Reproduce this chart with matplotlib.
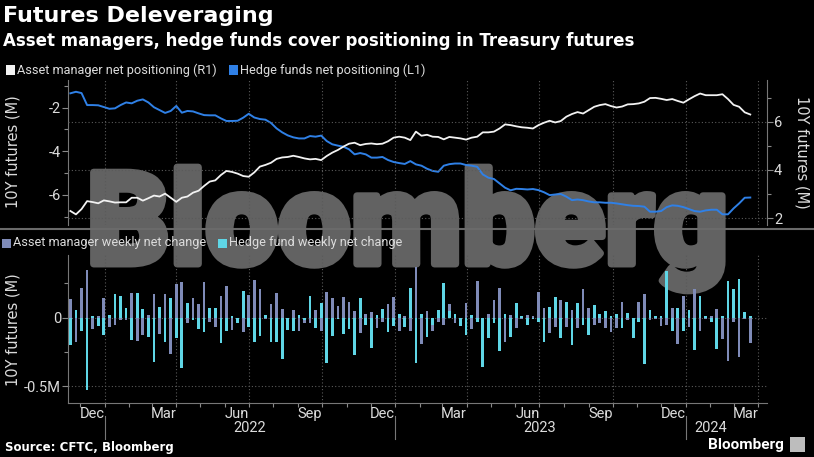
import matplotlib
matplotlib.use('Agg')
import matplotlib.pyplot as plt
import matplotlib.dates as mdates
import matplotlib.transforms as mtransforms
import matplotlib.patheffects as pe
from matplotlib import font_manager
from matplotlib.patches import Rectangle
from matplotlib.lines import Line2D
import pandas as pd

# ---------------- data ----------------
dates = pd.date_range('2021-11-19', periods=123, freq='7D')

am_net = [2.30, 2.16, 2.38, 2.71, 2.67, 2.62, 2.74, 2.70, 2.65, 2.66, 2.66, 2.85, 2.85, 2.73, 2.83, 2.94,
          2.90, 3.02, 2.85, 2.68, 2.85, 2.90, 3.06, 3.14, 3.34, 3.52, 3.57, 3.79, 3.96, 3.92, 3.85, 3.75,
          3.72, 3.90, 4.14, 4.21, 4.30, 4.46, 4.52, 4.54, 4.59, 4.54, 4.48, 4.44, 4.46, 4.41,
          4.58, 4.72, 4.83, 4.97, 5.09, 5.13, 5.03, 5.08, 5.10, 5.07, 5.09, 5.19, 5.34, 5.38, 5.34, 5.24,
          5.59, 5.42, 5.46, 5.38, 5.37, 5.27, 5.37, 5.34, 5.31, 5.26, 5.34, 5.38, 5.56, 5.56, 5.59, 5.72,
          5.89, 5.86, 5.81, 5.77, 5.75, 5.72, 5.86, 5.96, 6.04,
          5.97, 6.03, 6.21, 6.32, 6.40, 6.34, 6.48, 6.62, 6.69, 6.73, 6.65, 6.59, 6.63, 6.72, 6.73, 6.76,
          6.83, 6.98, 6.99, 6.95, 6.90, 6.94, 6.86, 6.79, 6.93, 7.06, 7.17, 7.10, 7.10, 7.10, 7.14, 6.94,
          6.70, 6.62, 6.39, 6.30]

hf_net = [-1.34, -1.27, -1.33, -1.88, -1.88, -1.89, -1.97, -2.05, -2.03, -1.88, -1.76, -1.80, -1.68, -1.62,
          -1.76, -1.98, -2.11, -2.24, -2.15, -1.92, -2.23, -2.15, -2.17, -2.26, -2.34, -2.35, -2.35, -2.49,
          -2.61, -2.61, -2.60, -2.46, -2.28, -2.45, -2.52, -2.55, -2.70, -2.95, -3.13, -3.27, -3.36, -3.41,
          -3.41, -3.30, -3.33, -3.28,
          -3.53, -3.68, -3.74, -3.79, -3.91, -4.14, -4.08, -4.14, -4.29, -4.29, -4.26, -4.40, -4.49, -4.54,
          -4.58, -4.45, -4.60, -4.66, -4.80, -4.90, -4.94, -4.66, -4.59, -4.56, -4.56, -4.63, -4.66, -4.71,
          -5.06, -5.21, -5.27, -5.47, -5.67, -5.79, -5.72, -5.73, -5.75, -5.73, -5.78, -5.88, -6.01,
          -5.98, -5.96, -6.08, -6.24, -6.21, -6.24, -6.30, -6.34, -6.34, -6.36, -6.36, -6.39, -6.43, -6.47,
          -6.50, -6.51, -6.54, -6.77, -6.77, -6.74, -6.56, -6.48, -6.50, -6.56, -6.65, -6.74, -6.77, -6.71,
          -6.68, -6.68, -6.89, -6.89, -6.62, -6.39, -6.13, -6.12]

am_chg = [0.137, -0.175, 0.215, 0.35, -0.08, 0.01, 0.14, -0.066, -0.054, -0.02, -0.02, 0.183, -0.17, -0.127,
          0.02, 0.17, -0.122, 0.17, -0.266, 0.244, 0.259, -0.04, 0.146, 0.098, 0.263, -0.03, -0.066, 0.161,
          0.234, -0.093, -0.02, -0.107, 0.166, 0.275, 0.207, -0.01, 0.10, 0.178, 0.06, -0.05, 0.056, -0.10,
          -0.04, -0.04, 0.056, -0.10, 0.19, 0.14, 0.085, 0.15, 0.117, 0.05, -0.115, 0.03, 0.044, -0.073,
          -0.03, 0.10, 0.154, -0.10, 0.015, -0.10, 0.37, -0.195, 0.05, -0.10, -0.03, -0.05, 0.10, -0.04,
          -0.03, 0.105, -0.083, 0.27, -0.02, 0.03, 0.127, 0.22, -0.176, 0.02, -0.073, -0.01, 0.02, 0.012,
          0.185, 0.07, -0.115, -0.07, 0.13, -0.066, 0.056, -0.073, 0.21, 0.073, -0.05, -0.037, -0.078,
          -0.107, -0.078, 0.112, -0.017, 0.0, 0.112, 0.17, -0.017, -0.01, -0.059, -0.054, 0.073, -0.195,
          0.161, -0.066, 0.21, -0.10, -0.01, 0.01, 0.063, -0.159, -0.317, -0.03, -0.29, -0.01, -0.183]

hf_chg = [-0.20, 0.056, -0.10, -0.53, 0.01, -0.06, -0.127, 0.02, 0.17, 0.16, 0.073, -0.16, 0.18, 0.063,
          -0.14, -0.32, 0.08, -0.176, 0.146, -0.15, -0.37, 0.11, -0.017, -0.083, -0.107, 0.068, 0.073,
          -0.188, -0.098, 0.01, -0.042, 0.195, -0.066, -0.18, -0.134, 0.02, -0.18, -0.18, -0.30, -0.09,
          -0.10, 0.02, -0.02, 0.16, -0.078, 0.105, -0.33, -0.13, -0.01, -0.12, -0.08, -0.27, 0.146, -0.05,
          -0.22, 0.02, 0.063, -0.107, -0.06, 0.024, -0.066, 0.215, -0.33, 0.03, -0.14, -0.05, 0.056, 0.25,
          0.05, 0.03, -0.06, -0.127, 0.02, -0.03, -0.36, -0.15, -0.04, -0.24, 0.03, -0.14, 0.105, 0.01,
          -0.054, -0.01, -0.03, -0.176, 0.08, 0.154, -0.146, 0.117, -0.20, 0.11, -0.054, -0.127, 0.09,
          0.03, 0.05, 0.01, 0.024, -0.078, 0.037, -0.146, -0.03, -0.34, 0.054, 0.015, 0.01, 0.34, -0.10,
          0.068, -0.10, 0.056, -0.237, 0.161, 0.015, -0.03, -0.23, 0.01, 0.268, 0.21, 0.283, 0.04, 0.015]

month_labels = ['Dec', 'Mar', 'Jun', 'Sep', 'Dec', 'Mar', 'Jun', 'Sep', 'Dec', 'Mar']
month_label_dates = ['2021-12-16', '2022-03-16', '2022-06-16', '2022-09-16', '2022-12-16',
                     '2023-03-16', '2023-06-16', '2023-09-16', '2023-12-16', '2024-03-16']
year_labels = ['2022', '2023', '2024']
year_label_dates = ['2022-07-02', '2023-07-02', '2024-02-01']
year_starts = ['2022-01-01', '2023-01-01', '2024-01-01']
quarter_starts = ['2022-01-01', '2022-04-01', '2022-07-01', '2022-10-01', '2023-01-01', '2023-04-01',
                  '2023-07-01', '2023-10-01', '2024-01-01', '2024-04-01']

# ---------------- style ----------------
W, H = 814, 457
BG = 'black'
C_WHITE = '#f2f2f2'
C_BLUE = '#2f80e6'
C_AMBAR = '#7f8bb8'
C_HFBAR = '#5fd6e6'
C_GRID = '#5a5a5a'
C_TXT = '#dcdcdc'
C_TICK = '#8a8a8a'
C_WM = '#626262'

names = {f.name for f in font_manager.fontManager.ttflist}
NARROW = 'Roboto' if 'Roboto' in names else 'Liberation Sans'
FAM = [NARROW, 'DejaVu Sans']
heavy = [f for f in font_manager.fontManager.ttflist
         if f.name == NARROW and isinstance(f.weight, int) and f.weight >= 800]
WM_WEIGHT = 'black' if heavy else 'bold'


def fx(x):
    return x / W


def fy(y):
    return 1 - y / H


fig = plt.figure(figsize=(W / 100, H / 100), dpi=100, facecolor=BG)

# watermark
fig.text(fx(407), fy(264), 'Bloomberg', fontsize=93, fontweight=WM_WEIGHT, color=C_WM,
         ha='center', va='baseline', zorder=-5, family=FAM,
         path_effects=[pe.Stroke(linewidth=5, foreground=C_WM), pe.Normal()])

xlim = (pd.Timestamp('2021-11-16'), pd.Timestamp('2024-04-12'))

# ---------------- top panel ----------------
ax1 = fig.add_axes([fx(68), fy(225), fx(767) - fx(68), fy(80) - fy(225)])
ax1.set_facecolor('none')
ax1r = ax1.twinx()
ax1r.set_facecolor('none')

for q in quarter_starts:
    ax1.axvline(pd.Timestamp(q), color=C_GRID, lw=0.8, ls=(0, (1, 2)), zorder=0)

ax1.plot(dates, hf_net, color=C_BLUE, lw=1.4, zorder=3)
ax1r.plot(dates, am_net, color=C_WHITE, lw=1.3, zorder=3)

ax1.set_xlim(*xlim)
ax1.set_ylim(-7.38, -0.73)
ax1r.set_ylim(1.72, 7.73)

ax1.set_yticks([-6, -4, -2])
ax1.set_yticklabels(['-6', '-4', '-2'])
ax1.set_yticks([-7, -5, -3, -1], minor=True)
ax1r.set_yticks([2, 4, 6])
ax1r.set_yticklabels(['2', '4', '6'])
ax1r.set_yticks([3, 5, 7], minor=True)
ax1r.yaxis.grid(True, color=C_GRID, lw=0.8, ls=(0, (1, 2)))
ax1r.set_axisbelow(True)

for a in (ax1, ax1r):
    for s in a.spines.values():
        s.set_visible(False)
    a.tick_params(axis='x', bottom=False, labelbottom=False, top=False)
    a.tick_params(axis='y', which='both', colors=C_TICK, labelcolor=C_TXT, labelsize=10.5, length=4,
                  width=0.8, pad=1)
    a.tick_params(axis='y', which='minor', length=3)
    for lab in a.get_yticklabels():
        lab.set_family(FAM)
ax1.spines['left'].set_visible(True)
ax1.spines['left'].set_color('#777777')
ax1r.spines['right'].set_visible(True)
ax1r.spines['right'].set_color('#777777')

fig.text(fx(13), fy(152), '10Y futures (M)', rotation=90, color=C_TXT, fontsize=10.5,
         ha='center', va='center')
fig.text(fx(802), fy(152), '10Y futures (M)', rotation=270, color=C_TXT, fontsize=10.5,
         ha='center', va='center')

# separator
fig.add_artist(Line2D([0, 1], [fy(229), fy(229)], color='#6a6a6a', lw=1.5, transform=fig.transFigure))

# ---------------- bottom panel ----------------
ax2 = fig.add_axes([fx(68), fy(403), fx(767) - fx(68), fy(255) - fy(403)])
ax2.set_facecolor('none')
for q in quarter_starts:
    ax2.axvline(pd.Timestamp(q), color=C_GRID, lw=0.8, ls=(0, (1, 2)), zorder=0)

ax2.bar(dates, am_chg, width=3.4, color=C_AMBAR, zorder=2)
ax2.bar(dates, hf_chg, width=3.4, color=C_HFBAR, zorder=3)

ax2.set_xlim(*xlim)
ax2.set_ylim(-0.622, 0.457)
ax2.set_yticks([-0.5, 0])
ax2.set_yticklabels(['-0.5M', '0'])
ax2.set_yticks([-0.25, 0.25], minor=True)
ax2.yaxis.grid(True, color=C_GRID, lw=0.8, ls=(0, (1, 2)))
ax2.set_axisbelow(True)

ax2.set_xticks([pd.Timestamp(d) for d in month_label_dates])
ax2.set_xticklabels(month_labels)
ax2.xaxis.set_minor_locator(mdates.MonthLocator())
ax2.tick_params(axis='x', which='major', length=0, pad=3, labelsize=10.5, labelcolor=C_TXT)
ax2.tick_params(axis='x', which='minor', length=3, color=C_TICK, width=0.8)
ax2.tick_params(axis='y', which='both', colors=C_TICK, labelcolor=C_TXT, labelsize=10.5, length=4,
                width=0.8, pad=1)
ax2.tick_params(axis='y', which='minor', length=3)
for lab in ax2.get_xticklabels() + ax2.get_yticklabels():
    lab.set_family(FAM)
for s in ('top', 'right'):
    ax2.spines[s].set_visible(False)
for s in ('left', 'bottom'):
    ax2.spines[s].set_color('#777777')

trans = mtransforms.blended_transform_factory(ax2.transData, ax2.transAxes)
for lab, d in zip(year_labels, year_label_dates):
    ax2.text(pd.Timestamp(d), -0.17, lab, transform=trans, ha='center', va='center',
             color=C_TXT, fontsize=10.5, family=FAM, clip_on=False)
for d in year_starts:
    ax2.add_line(Line2D([pd.Timestamp(d)] * 2, [-0.09, -0.24], transform=trans, color='#777777',
                        lw=0.8, clip_on=False))

fig.text(fx(13), fy(330), '10Y futures (M)', rotation=90, color=C_TXT, fontsize=10.5,
         ha='center', va='center')

# ---------------- titles & legends ----------------
fig.text(fx(3), fy(16), 'Futures Deleveraging', color='white', fontsize=16, fontweight='bold',
         ha='left', va='center')
fig.text(fx(3), fy(41), 'Asset managers, hedge funds cover positioning in Treasury futures',
         color='white', fontsize=12, fontweight='bold', ha='left', va='center')


def legend_item(x, y, color, text):
    fig.add_artist(Rectangle((fx(x), fy(y + 4.5)), 9 / W, 9 / H, facecolor=color, edgecolor='none',
                             transform=fig.transFigure))
    fig.text(fx(x + 11), fy(y), text, color=C_TXT, fontsize=9.2, family=FAM,
             ha='left', va='center')


legend_item(6, 70, C_WHITE, 'Asset manager net positioning (R1)')
legend_item(229, 70, C_BLUE, 'Hedge funds net positioning (L1)')
legend_item(2, 243, C_AMBAR, 'Asset manager weekly net change')
legend_item(218, 243, C_HFBAR, 'Hedge fund weekly net change')

# footer
fig.text(fx(5), fy(447), 'Source: CFTC, Bloomberg', color='white', fontsize=8.5, fontweight='bold',
         ha='left', va='center')
fig.text(fx(784), fy(445), 'Bloomberg', color='white', fontsize=11, fontweight='bold',
         ha='right', va='center', family=FAM)
fig.add_artist(Rectangle((fx(790), fy(452)), 15 / W, 15 / H, facecolor='#bdbdbd', edgecolor='none',
                         transform=fig.transFigure))

fig.savefig('out.png', dpi=100, facecolor=BG)
